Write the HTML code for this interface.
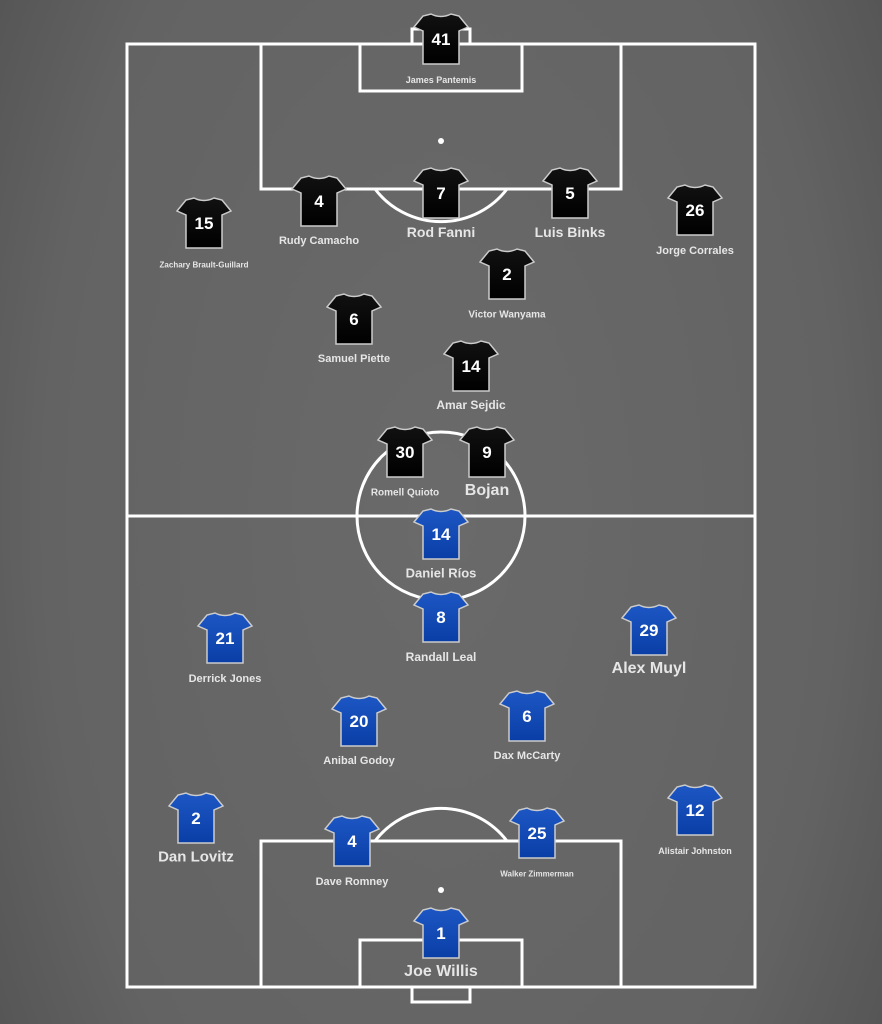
<!DOCTYPE html>
<html><head><meta charset="utf-8"><style>
html,body{margin:0;padding:0}
body{width:882px;height:1024px;overflow:hidden;position:relative;background:radial-gradient(ellipse 75% 120% at 50% 50%,#6a6a6a 0%,#636363 60%,#474747 100%);font-family:"Liberation Sans",Arial,sans-serif}
.lbl{position:absolute;color:#e6e6e6;font-weight:bold;white-space:nowrap;transform:translate(-50%,-50%)}
svg{position:absolute;left:0;top:0}
</style></head><body>
<svg width="882" height="1024" viewBox="0 0 882 1024">
<defs>
<linearGradient id="bk" x1="0" y1="0" x2="0" y2="1"><stop offset="0" stop-color="#111"/><stop offset="1" stop-color="#000"/></linearGradient>
<linearGradient id="bl" x1="0" y1="0" x2="0" y2="1"><stop offset="0" stop-color="#1d57c4"/><stop offset="1" stop-color="#0a3ea6"/></linearGradient>
<path id="j" d="M18,1 Q28,6 38,1 L46,3 L55,14 L46,18 L46,51 L10,51 L10,18 L1,14 L10,3 Z"/>
</defs>
<g fill="none" stroke="#fff" stroke-width="3">
<rect x="127" y="44" width="628" height="943"/>
<line x1="127" y1="516" x2="755" y2="516"/>
<circle cx="441" cy="516" r="84"/>
<rect x="261" y="44" width="360" height="145"/>
<rect x="360" y="44" width="162" height="47"/>
<rect x="412" y="29" width="58" height="15"/>
<path d="M375,189 A83,83 0 0 0 507,189"/>
<rect x="261" y="841" width="360" height="146"/>
<rect x="360" y="940" width="162" height="47"/>
<rect x="412" y="987" width="58" height="15"/>
<path d="M375,841 A83,83 0 0 1 507,841"/>
</g>
<circle cx="441" cy="141" r="3" fill="#fff"/>
<circle cx="441" cy="890" r="3" fill="#fff"/>
<g font-family="Liberation Sans,Arial,sans-serif" font-weight="bold" font-size="17" fill="#fff" text-anchor="middle" stroke="#ccc" stroke-width="1.5">
<g id="players"></g>
</g>
</svg>
<script>
var P=[
[441,13,41,'James Pantemis',80,9,0],
[319,175,4,'Rudy Camacho',241,11,0],
[441,167,7,'Rod Fanni',232,14,0],
[570,167,5,'Luis Binks',232,14,0],
[204,197,15,'Zachary Brault-Guillard',265,8,0],
[695,184,26,'Jorge Corrales',251,11,0],
[507,248,2,'Victor Wanyama',315,10,0],
[354,293,6,'Samuel Piette',359,11,0],
[471,340,14,'Amar Sejdic',405,12,0],
[405,426,30,'Romell Quioto',493,10,0],
[487,426,9,'Bojan',491,16,0],
[441,508,14,'Daniel Ríos',573,13,1],
[441,591,8,'Randall Leal',657,12,1],
[225,612,21,'Derrick Jones',679,11,1],
[649,604,29,'Alex Muyl',669,16,1],
[359,695,20,'Anibal Godoy',761,11,1],
[527,690,6,'Dax McCarty',756,11,1],
[196,792,2,'Dan Lovitz',857,15,1],
[695,784,12,'Alistair Johnston',851,9,1],
[352,815,4,'Dave Romney',882,11,1],
[537,807,25,'Walker Zimmerman',874,8,1],
[441,907,1,'Joe Willis',972,16,1]];
var g=document.getElementById('players'),ns='http://www.w3.org/2000/svg';
P.forEach(function(p){
 var u=document.createElementNS(ns,'use');u.setAttribute('href','#j');
 u.setAttribute('transform','translate('+(p[0]-28)+','+p[1]+')');
 u.setAttribute('fill',p[6]?'url(#bl)':'url(#bk)');g.appendChild(u);
 var t=document.createElementNS(ns,'text');t.setAttribute('x',p[0]);t.setAttribute('y',p[1]+32);
 t.setAttribute('stroke','none');t.textContent=p[2];g.appendChild(t);
 var d=document.createElement('div');d.className='lbl';d.style.left=p[0]+'px';d.style.top=p[4]+'px';
 d.style.fontSize=p[5]+'px';d.textContent=p[3];document.body.appendChild(d);
});
</script>
</body></html>
